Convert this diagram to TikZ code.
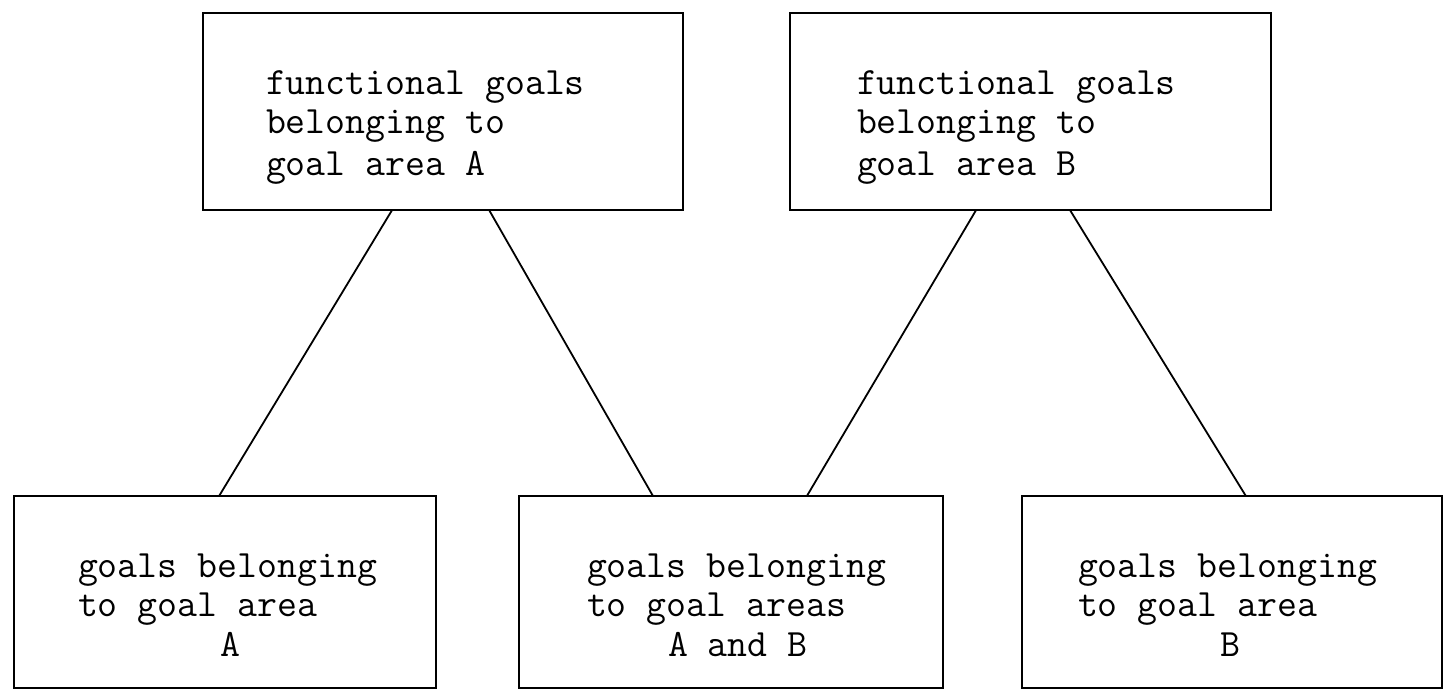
\documentclass[tikz,border=0pt]{standalone}
\usetikzlibrary{calc}
\begin{document}
\begin{tikzpicture}[x=1pt,y=-1pt,
  boxnode/.style={draw, line width=1.8pt, inner sep=0pt, outer sep=0pt},
  txt/.style={anchor=base west, inner sep=0pt, outer sep=0pt,
              font=\ttfamily\fontsize{38.7}{40}\selectfont},
  conn/.style={line width=1.8pt}]
\useasboundingbox (0,0) rectangle (1447,690);
\fill[white] (0,0) rectangle (1447,690);
% top boxes
\node[boxnode, minimum width=480pt, minimum height=197pt] (tA) at (443,111.5) {};
\node[boxnode, minimum width=481pt, minimum height=197pt] (tB) at (1030.5,111.5) {};
% bottom boxes
\node[boxnode, minimum width=422pt, minimum height=192pt] (bL) at (225,592) {};
\node[boxnode, minimum width=424pt, minimum height=192pt] (bM) at (731,592) {};
\node[boxnode, minimum width=420pt, minimum height=192pt] (bR) at (1232,592) {};
% texts top A
\node[txt] (tA1) at (266,95) {functional goals};
\node[txt] (tA2) at (266,134) {belonging to};
\node[txt] (tA3) at (266,175) {goal area A};
% texts top B
\node[txt] (tB1) at (857,95) {functional goals};
\node[txt] (tB2) at (857,134) {belonging to};
\node[txt] (tB3) at (857,175) {goal area B};
% texts bottom left
\node[txt] (bL1) at (78,577) {goals belonging};
\node[txt] (bL2) at (78,616) {to goal area};
\node[txt] (bL3) at (220,656) {A};
% texts bottom middle
\node[txt] (bM1) at (587,577) {goals belonging};
\node[txt] (bM2) at (587,616) {to goal areas};
\node[txt] (bM3) at (668,656) {A and B};
% texts bottom right
\node[txt] (bR1) at (1078,577) {goals belonging};
\node[txt] (bR2) at (1078,616) {to goal area};
\node[txt] (bR3) at (1220,656) {B};
% connectors
\draw[conn] ($(tA.south west)!0.394!(tA.south east)$) -- ($(bL.north west)!0.486!(bL.north east)$);
\draw[conn] ($(tA.south west)!0.596!(tA.south east)$) -- ($(bM.north west)!0.316!(bM.north east)$);
\draw[conn] ($(tB.south west)!0.387!(tB.south east)$) -- ($(bM.north west)!0.679!(bM.north east)$);
\draw[conn] ($(tB.south west)!0.582!(tB.south east)$) -- ($(bR.north west)!0.533!(bR.north east)$);
\end{tikzpicture}
\end{document}
